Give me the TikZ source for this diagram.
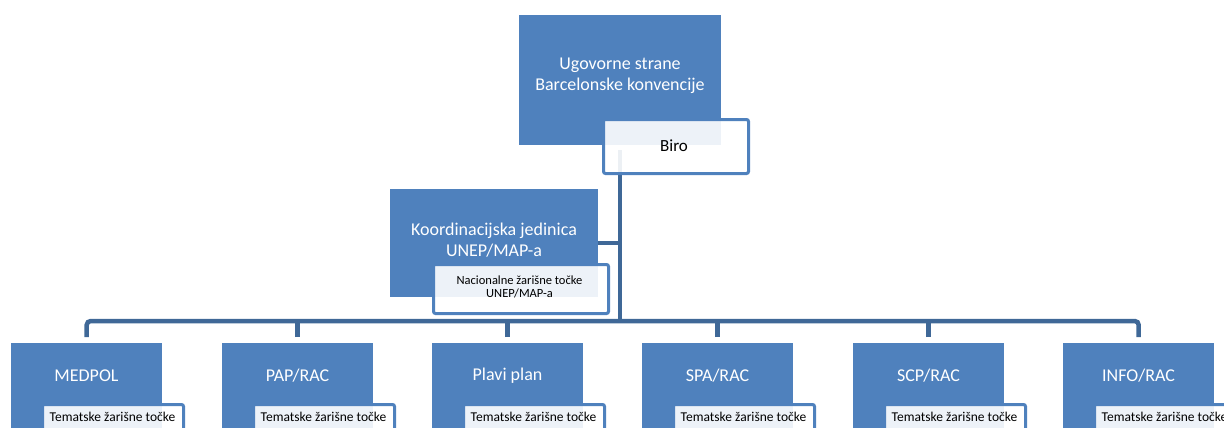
\documentclass[tikz,border=0pt]{standalone}
\usepackage{fontspec}
\setmainfont{Carlito}
\definecolor{boxblue}{HTML}{4F81BD}
\definecolor{connblue}{HTML}{3F6897}
\begin{document}
\begin{tikzpicture}[x=1pt,y=-1pt,
  bluebox/.style={draw=none,fill=boxblue,anchor=north west,inner sep=0pt},
  whitebox/.style={draw=boxblue,line width=3pt,rounded corners=2pt,fill=white,fill opacity=0.9,text opacity=1,anchor=north west,inner sep=0pt},
  bigtext/.style={text=white,font=\fontsize{18}{21}\selectfont,align=center,inner sep=0pt},
  smalltext/.style={text=black,font=\fontsize{13.5}{15}\selectfont,align=center,inner sep=0pt},
  conn/.style={draw=connblue,line width=4.5pt,rounded corners=4pt}]
\useasboundingbox (0,0) rectangle (1224,428);
\clip (0,0) rectangle (1224,428);
% top
\node[bluebox,minimum width=202pt,minimum height=130pt] (top) at (519,15) {};
\node[bigtext] (toptext) at (620,76) {Ugovorne strane\\Barcelonske konvencije};
% koordinacijska
\node[bluebox,minimum width=208pt,minimum height=108pt] (koord) at (390,189) {};
\node[bigtext] (koordtext) at (494,240) {Koordinacijska jedinica\\UNEP/MAP-a};
% bottom boxes
\foreach \i/\x/\t in {1/11/MEDPOL,2/222/PAP\slash RAC,3/432/Plavi plan,4/642/SPA\slash RAC,5/853/SCP\slash RAC,6/1063/INFO\slash RAC}{
  \node[bluebox,minimum width=151pt,minimum height=110pt] (m\i) at (\x,343) {};
}
\coordinate (trunktop) at (620,150);
\coordinate (bus) at (620,321);
% connectors
\draw[conn] (trunktop) -- (bus);
\draw[conn] (koord.east) -- (koord.east -| bus);
\draw[conn] ([yshift=6pt]m1.north) -- (m1.north |- bus) -- (m6.north |- bus) -- ([yshift=6pt]m6.north);
\foreach \i in {2,3,4,5}{
  \draw[conn,rounded corners=0pt] ([yshift=6pt]m\i.north) -- (m\i.north |- bus);
}
% boxes text and white boxes
\node[whitebox,minimum width=145pt,minimum height=54pt] (biro) at (602,118) {};
\node[text=black,font=\fontsize{17}{20}\selectfont,inner sep=0pt] (birotext) at (674,146) {Biro};
\node[whitebox,minimum width=175pt,minimum height=49pt] (nac) at (432,263) {};
\node[smalltext,font=\fontsize{12.5}{13}\selectfont] (nactext) at (519.5,287) {Nacionalne žarišne točke\\UNEP/MAP-a};
\foreach \i/\x/\t in {1/11/MEDPOL,2/222/PAP\slash RAC,3/432/Plavi plan,4/642/SPA\slash RAC,5/853/SCP\slash RAC,6/1063/INFO\slash RAC}{
  \node[bigtext] (l\i) at (\x+75.5,376) {\t};
  \node[whitebox,minimum width=141pt,minimum height=50pt] (tz\i) at (\x+30,403) {};
  \node[smalltext] (tzt\i) at (\x+101.5,417) {Tematske žarišne točke};
}
\end{tikzpicture}
\end{document}
